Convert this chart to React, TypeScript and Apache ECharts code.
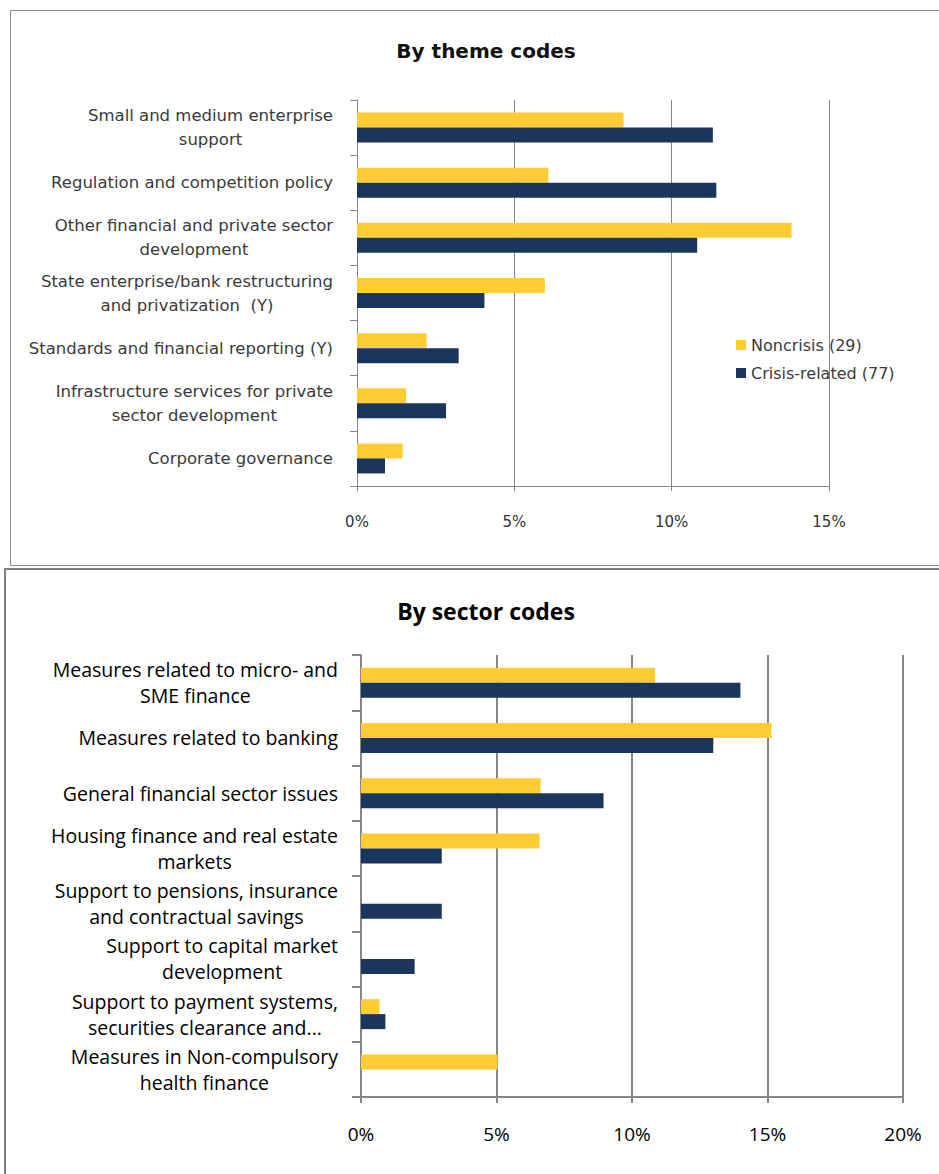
import React, { useEffect, useRef } from "react";
import * as echarts from "echarts";

const themeCategories = [
  "Small and medium enterprise\nsupport",
  "Regulation and competition policy",
  "Other financial and private sector\ndevelopment",
  "State enterprise/bank restructuring\nand privatization  (Y)",
  "Standards and financial reporting (Y)",
  "Infrastructure services for private\nsector development",
  "Corporate governance",
];
const themeNoncrisis = [8.47, 6.08, 13.81, 5.97, 2.21, 1.56, 1.45];
const themeCrisis = [11.31, 11.42, 10.81, 4.05, 3.23, 2.83, 0.89];

const sectorCategories = [
  "Measures related to micro- and\nSME finance",
  "Measures related to banking",
  "General financial sector issues",
  "Housing finance and real estate\nmarkets",
  "Support to pensions, insurance\nand contractual savings",
  "Support to capital market\ndevelopment",
  "Support to payment systems,\nsecurities clearance and...",
  "Measures in Non-compulsory\nhealth finance",
];
const sectorNoncrisis = [10.85, 15.15, 6.63, 6.59, 0, 0, 0.68, 5.04];
const sectorCrisis = [14.0, 13.0, 8.95, 2.98, 2.98, 1.98, 0.9, 0];

const seriesNames = ["Noncrisis (29)", "Crisis-related (77)"];
const titles = ["By theme codes", "By sector codes"];
const themeTicks = [0, 5, 10, 15];
const sectorTicks = [0, 5, 10, 15, 20];

const YELLOW = "#FFCC33";
const NAVY = "#1A365D";
const LINE = "#868686";

const centerLines = (v: string) =>
  v
    .split("\n")
    .map((l) => `{c|${l}}`)
    .join("\n");

export default function App() {
  const ref = useRef<HTMLDivElement>(null);
  useEffect(() => {
    if (!ref.current) return;
    const chart = echarts.init(ref.current, undefined, { renderer: "svg" });
    const topFont = "DejaVu Sans";
    const botFont = "Open Sans";
    chart.setOption({
      animation: false,
      backgroundColor: "#ffffff",
      title: [
        {
          text: titles[0],
          left: 481,
          top: 36,
          textAlign: "center",
          textStyle: { fontFamily: topFont, fontSize: 20, fontWeight: "bold", color: "#111" },
        },
        {
          text: titles[1],
          left: 481,
          top: 594,
          textAlign: "center",
          textStyle: { fontFamily: botFont, fontSize: 23, fontWeight: "bold", color: "#000" },
        },
      ],
      legend: {
        data: seriesNames,
        orient: "vertical",
        left: 731,
        top: 332,
        itemWidth: 10,
        itemHeight: 10,
        itemGap: 12,
        icon: "rect",
        textStyle: { fontFamily: topFont, fontSize: 16, color: "#3a3a3a" },
      },
      graphic: [
        {
          type: "rect",
          silent: true,
          shape: { x: 10.5, y: 10.5, width: 940, height: 555 },
          style: { fill: "none", stroke: "#8c8c8c", lineWidth: 1 },
        },
        {
          type: "rect",
          silent: true,
          shape: { x: 5, y: 569, width: 945, height: 640 },
          style: { fill: "none", stroke: "#808080", lineWidth: 2 },
        },
      ],
      grid: [
        { left: 357, top: 100, width: 472, height: 386 },
        { left: 361, top: 655, width: 542, height: 442 },
      ],
      xAxis: [
        {
          type: "value",
          gridIndex: 0,
          min: themeTicks[0],
          max: themeTicks[themeTicks.length - 1],
          interval: 5,
          axisLine: { show: true, lineStyle: { color: LINE, width: 1 } },
          axisTick: { show: true, length: 5, lineStyle: { color: LINE, width: 1 } },
          splitLine: { show: true, lineStyle: { color: LINE, width: 1 } },
          axisLabel: {
            margin: 28,
            formatter: (v: number) => `${v}%`,
            fontFamily: topFont,
            fontSize: 15,
            color: "#333",
          },
        },
        {
          type: "value",
          gridIndex: 1,
          min: sectorTicks[0],
          max: sectorTicks[sectorTicks.length - 1],
          interval: 5,
          axisLine: { show: true, lineStyle: { color: LINE, width: 2 } },
          axisTick: { show: true, length: 6, lineStyle: { color: LINE, width: 2 } },
          splitLine: { show: true, lineStyle: { color: LINE, width: 2 } },
          axisLabel: {
            margin: 27,
            formatter: (v: number) => `${v}%`,
            fontFamily: botFont,
            fontSize: 19,
            color: "#000",
          },
        },
      ],
      yAxis: [
        {
          type: "category",
          gridIndex: 0,
          inverse: true,
          data: themeCategories,
          axisLine: { show: true, lineStyle: { color: LINE, width: 1 } },
          axisTick: { show: true, length: 7, interval: 0, lineStyle: { color: LINE, width: 1 } },
          axisLabel: {
            interval: 0,
            margin: 24,
            align: "right",
            formatter: centerLines,
            rich: {
              c: {
                align: "center",
                fontFamily: topFont,
                fontSize: 16.5,
                lineHeight: 24,
                color: "#3a3a3a",
              },
            },
          },
        },
        {
          type: "category",
          gridIndex: 1,
          inverse: true,
          data: sectorCategories,
          axisLine: { show: true, lineStyle: { color: LINE, width: 2 } },
          axisTick: { show: true, length: 9, interval: 0, lineStyle: { color: LINE, width: 2 } },
          axisLabel: {
            interval: 0,
            margin: 23,
            align: "right",
            formatter: centerLines,
            rich: {
              c: {
                align: "center",
                fontFamily: botFont,
                fontSize: 19.5,
                lineHeight: 26,
                color: "#000",
              },
            },
          },
        },
      ],
      series: [
        {
          name: seriesNames[0],
          type: "bar",
          xAxisIndex: 0,
          yAxisIndex: 0,
          data: themeNoncrisis,
          barWidth: 15,
          barGap: "0%",
          itemStyle: { color: YELLOW },
        },
        {
          name: seriesNames[1],
          type: "bar",
          xAxisIndex: 0,
          yAxisIndex: 0,
          data: themeCrisis,
          barWidth: 15,
          barGap: "0%",
          itemStyle: { color: NAVY },
        },
        {
          name: seriesNames[0],
          type: "bar",
          xAxisIndex: 1,
          yAxisIndex: 1,
          data: sectorNoncrisis,
          barWidth: 15,
          barGap: "0%",
          itemStyle: { color: YELLOW },
        },
        {
          name: seriesNames[1],
          type: "bar",
          xAxisIndex: 1,
          yAxisIndex: 1,
          data: sectorCrisis,
          barWidth: 15,
          barGap: "0%",
          itemStyle: { color: NAVY },
        },
      ],
    });
    return () => chart.dispose();
  }, []);
  return (
    <div
      ref={ref}
      style={{ position: "fixed", left: 0, top: 0, width: 939, height: 1174, background: "#fff" }}
    />
  );
}
